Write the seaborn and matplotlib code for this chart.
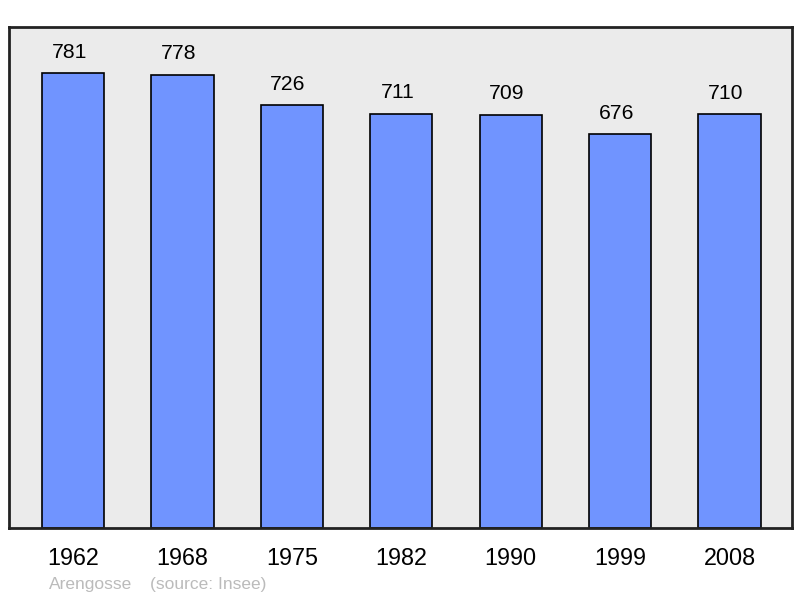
import matplotlib
matplotlib.use("Agg")
import matplotlib.pyplot as plt
import pandas as pd
import seaborn as sns

# population by census year
years = ["1962", "1968", "1975", "1982", "1990", "1999", "2008"]
population = [781, 778, 726, 711, 709, 676, 710]
commune = "Arengosse"
source = "(source: Insee)"

sns.set_theme(style="white")
plt.rcParams["font.family"] = ["Liberation Sans", "DejaVu Sans"]

df = pd.DataFrame({"year": years, "population": population})

fig = plt.figure(figsize=(8, 5.98), dpi=100)
ax = fig.add_axes([9 / 800, 70 / 598, 783 / 800, 501 / 598])
ax.set_facecolor("#ebebeb")

sns.barplot(data=df, x="year", y="population", color="#7094ff", saturation=1,
            width=0.57, edgecolor="black", linewidth=1.2, ax=ax)

# labels sit a little left of the bar centre in the original
for i, v in enumerate(population):
    ax.text(i - 0.035, v + 36, str(v), ha="center", va="center", fontsize=15.2, color="black")

ax.set_xlim(-0.585, 6.571)
ax.set_ylim(0, 860)
ax.set_yticks([])
ax.set_xlabel("")
ax.set_ylabel("")
ax.tick_params(axis="x", length=0, pad=14, labelsize=16.8, colors="black")
for spine in ax.spines.values():
    spine.set_visible(True)
    spine.set_color("#222222")
    spine.set_linewidth(2)

fig.text(49 / 800, 1 - 584 / 598, commune, fontsize=12.5, color="#bbbbbb", va="center", ha="left")
fig.text(150 / 800, 1 - 584 / 598, source, fontsize=12.5, color="#bbbbbb", va="center", ha="left")

fig.savefig("out.png", dpi=100)
